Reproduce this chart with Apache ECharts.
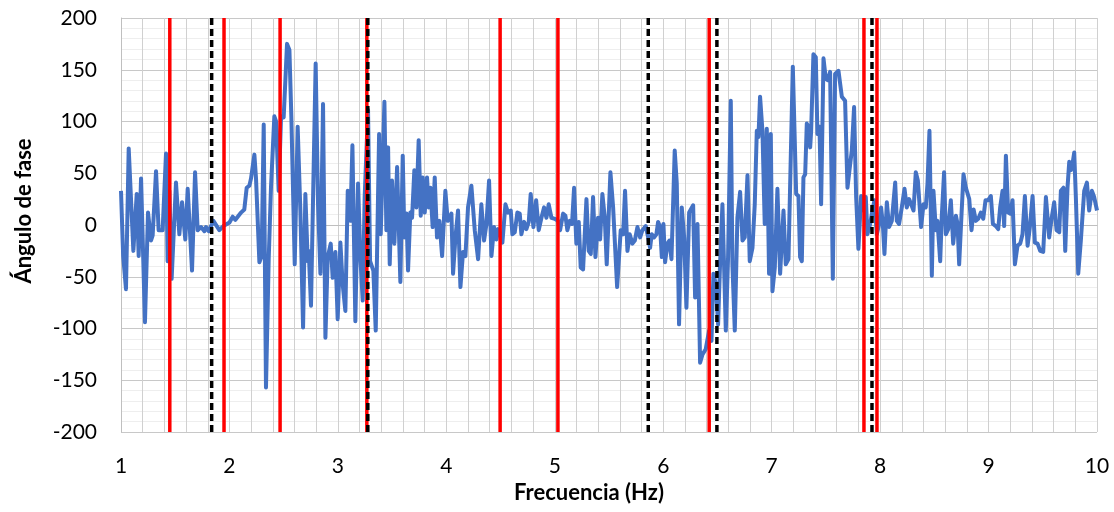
<!DOCTYPE html>
<html>
<head>
<meta charset="utf-8">
<script src="https://cdn.jsdelivr.net/npm/echarts@6/dist/echarts.min.js"></script>
<style>
  html, body { margin: 0; padding: 0; background: #fff; }
  #chart { width: 1114px; height: 512px; }
</style>
</head>
<body>
<div id="chart"></div>
<script>
// [Hz, grados], por tramos
const tramo1 = [
  [1.000, 33], [1.020, -30], [1.046, -62], [1.071, 74], [1.114, -25], [1.145, 30], [1.163, -30],
  [1.185, 45], [1.200, 45], [1.221, -94], [1.249, 12], [1.277, -15], [1.292, -10], [1.323, 52],
  [1.347, -5], [1.384, -5], [1.415, 69], [1.430, -35], [1.446, 33], [1.467, -52], [1.507, 41],
  [1.538, -9], [1.563, 22], [1.593, -14], [1.615, 35], [1.655, -44], [1.683, 51], [1.707, -5],
  [1.738, -2], [1.769, -6], [1.784, -2], [1.809, -6], [1.852, 4], [1.907, -5], [1.944, -1],
  [2.000, 2.5], [2.030, 8], [2.055, 5], [2.107, 12], [2.137, 15], [2.159, 36], [2.184, 38],
  [2.199, 45], [2.230, 68], [2.245, 45], [2.276, -36], [2.297, -30], [2.316, 97], [2.337, -157],
  [2.362, -33], [2.383, 36], [2.399, 36], [2.414, 105], [2.430, 100], [2.454, 33], [2.476, 105]
];
const tramo2 = [
  [2.500, 104], [2.531, 175], [2.553, 169], [2.571, 104], [2.586, 103], [2.602, -38], [2.629, 95],
  [2.654, 14], [2.679, -99], [2.700, 30], [2.722, -35], [2.731, -25], [2.752, -78], [2.795, 156],
  [2.817, 20], [2.839, -47], [2.863, 117], [2.885, -109], [2.906, -31], [2.934, -18], [2.952, -51],
  [2.977, -26], [2.998, -91], [3.023, -17], [3.044, -57], [3.069, -83], [3.091, 33], [3.115, 4],
  [3.134, 77], [3.161, -93], [3.186, 40], [3.207, -31], [3.229, -73], [3.247, 27], [3.278, 111],
  [3.297, -35], [3.327, -44], [3.349, -102], [3.380, 88], [3.395, -9], [3.429, 119], [3.447, -5],
  [3.463, 75], [3.478, -38], [3.499, 43], [3.521, -18], [3.546, 56], [3.576, -55], [3.598, 67],
  [3.613, -12], [3.632, 11], [3.647, -44], [3.668, 12], [3.684, 7], [3.705, 53], [3.724, 17],
  [3.745, 82], [3.764, 9], [3.782, 46], [3.801, 12], [3.822, 46], [3.838, 17], [3.853, 36],
  [3.874, -2], [3.893, 46], [3.914, -12], [3.936, 4], [3.961, -30], [3.991, 33], [4.013, 4]
];
const tramo3 = [
  [4.031, 7], [4.047, 11], [4.062, -47], [4.084, -12], [4.108, 14], [4.130, -60], [4.154, -26],
  [4.176, -30], [4.200, 17], [4.231, 38], [4.262, -5], [4.293, -33], [4.323, 20], [4.348, -15],
  [4.370, 1], [4.394, 43], [4.416, -30], [4.440, -2], [4.462, -14], [4.477, -4], [4.499, -10],
  [4.517, -17], [4.545, 20], [4.569, 12], [4.594, 14], [4.609, -9], [4.631, -7], [4.655, 12],
  [4.677, 11], [4.692, -9], [4.717, 3], [4.738, -4], [4.760, 3], [4.778, 30], [4.803, -2],
  [4.828, 24], [4.852, -5], [4.877, 7], [4.901, 17], [4.923, 7], [4.944, 20], [4.969, 7],
  [5.000, 6], [5.030, 4], [5.049, -5], [5.077, 11], [5.098, 9], [5.116, -5], [5.138, 4],
  [5.159, 1], [5.178, 36], [5.199, -18], [5.221, 3], [5.239, -41], [5.261, -43], [5.292, 25],
  [5.313, -25], [5.332, -28], [5.353, 27], [5.375, -31], [5.399, 7], [5.418, -14], [5.439, 30],
  [5.461, 7], [5.479, -38], [5.513, 51], [5.538, 17], [5.575, -60]
];
const tramo4 = [
  [5.608, -5], [5.630, -9], [5.648, 33], [5.670, -25], [5.691, -9], [5.716, -18], [5.738, -15],
  [5.762, -2], [5.787, -12], [5.808, -5], [5.839, -1], [5.861, -12], [5.879, -22], [5.894, -9],
  [5.916, -12], [5.937, -9], [5.953, 3], [5.971, -2], [5.987, -31], [6.002, 1], [6.017, -36],
  [6.039, -18], [6.057, -15], [6.076, -33], [6.106, 72], [6.125, 40], [6.146, -96], [6.171, 17],
  [6.193, -12], [6.214, -80], [6.239, 12], [6.276, 19], [6.294, -70], [6.316, 1], [6.340, -133],
  [6.362, -125], [6.392, -120], [6.423, -102], [6.445, -112], [6.463, -47], [6.485, -57],
  [6.506, -96], [6.524, -38], [6.546, 20], [6.577, -102], [6.598, -31], [6.623, 120], [6.638, -38],
  [6.660, -102], [6.684, 7], [6.709, 32], [6.731, -15], [6.752, -12], [6.777, 48], [6.798, -35],
  [6.823, -22], [6.844, 20], [6.863, 91], [6.878, 85], [6.893, 124], [6.915, 91], [6.936, 1],
  [6.955, 93], [6.976, -47], [6.992, 88], [7.007, -64], [7.029, -41], [7.053, 35], [7.078, -47]
];
const tramo5 = [
  [7.109, 14], [7.130, -38], [7.155, -33], [7.195, 153], [7.226, 30], [7.247, 28], [7.262, -31],
  [7.278, -35], [7.293, 46], [7.309, 49], [7.324, 98], [7.339, 95], [7.355, 75], [7.364, 91],
  [7.385, 165], [7.407, 162], [7.422, 88], [7.441, 95], [7.456, 20], [7.478, 161], [7.499, 141],
  [7.518, 140], [7.539, 148], [7.564, -52], [7.585, 146], [7.616, 149], [7.647, 124], [7.677, 120],
  [7.699, 36], [7.724, 59], [7.739, 72], [7.760, 114], [7.779, 27], [7.800, -23], [7.816, -23],
  [7.825, 28], [7.846, 14], [7.868, 27], [7.883, -9], [7.908, 1], [7.929, 14], [7.948, 24],
  [7.970, -9], [7.991, 1], [8.009, 17], [8.025, 1], [8.040, -28], [8.062, 22], [8.083, -2],
  [8.108, 4], [8.139, 41], [8.154, 4], [8.175, 1], [8.200, 17], [8.225, 35], [8.246, 17],
  [8.268, 25], [8.286, 24], [8.308, 14], [8.329, 51], [8.348, 43], [8.378, -2], [8.400, 20],
  [8.421, 17], [8.437, 40], [8.455, 91], [8.477, -49], [8.492, 33], [8.514, -5], [8.529, 4],
  [8.554, -35], [8.569, 9], [8.590, 51], [8.606, -9]
];
const tramo6 = [
  [8.628, -4], [8.652, 24], [8.674, -18], [8.699, 9], [8.714, 1], [8.729, -38], [8.751, 11],
  [8.769, 49], [8.791, 36], [8.822, 25], [8.843, -5], [8.862, 15], [8.883, 4], [8.905, 6],
  [8.929, 12], [8.951, 6], [8.972, 24], [8.997, 24], [9.021, 28], [9.040, 1], [9.067, -1],
  [9.089, -4], [9.107, 17], [9.129, 33], [9.144, -1], [9.160, 67], [9.181, 12], [9.200, 11],
  [9.221, 24], [9.243, -38], [9.267, -20], [9.292, -18], [9.313, -9], [9.335, 28], [9.360, -20],
  [9.381, -2], [9.406, 28], [9.427, -17], [9.452, -18], [9.476, -25], [9.504, -26], [9.529, 27],
  [9.559, -12], [9.581, 6], [9.605, 22], [9.627, -5], [9.652, -7], [9.667, 33], [9.691, 36],
  [9.707, -25], [9.728, 36], [9.744, 61], [9.759, 53], [9.774, 59], [9.790, 70], [9.805, 27],
  [9.827, -47], [9.851, -15], [9.882, 33], [9.907, 41], [9.928, 14], [9.953, 33], [9.974, 27],
  [10.000, 14]
];

// lineas verticales (Hz)
const lineasRojas = [1.45, 1.95, 2.467, 3.267, 4.496, 5.029, 6.424, 7.851, 7.971];
const lineasNegras = [1.836, 3.276, 5.862, 6.495, 7.925];

const fase = [].concat(tramo1, tramo2, tramo3, tramo4, tramo5, tramo6);

const chart = echarts.init(document.getElementById('chart'));
const fuente = 'Lato, "Open Sans", sans-serif';

function vertical(x, color, width, type) {
  return {
    type: 'line',
    data: [[x, -200], [x, 200]],
    showSymbol: false,
    silent: true,
    z: 3,
    lineStyle: { color: color, width: width, type: type },
  };
}

const series = [
  {
    name: 'fase',
    type: 'line',
    data: fase,
    showSymbol: false,
    z: 2,
    lineStyle: { color: '#4472C4', width: 4, join: 'round' },
  },
]
  .concat(lineasRojas.map((x) => vertical(x, '#ff0000', 3.5, 'solid')))
  .concat(lineasNegras.map((x) => vertical(x, '#000000', 3.5, [7, 4])));

chart.setOption({
  animation: false,
  grid: { left: 121, right: 17, top: 18, bottom: 80 },
  xAxis: {
    type: 'value',
    min: 1,
    max: 10,
    interval: 1,
    name: 'Frecuencia (Hz)',
    nameLocation: 'middle',
    nameGap: 50,
    nameTextStyle: { fontFamily: fuente, fontWeight: 'bold', fontSize: 22, color: '#000', padding: [0, 40, 0, 0] },
    axisLine: { lineStyle: { color: '#bfbfbf', width: 1 } },
    axisTick: { show: false },
    axisLabel: { fontFamily: fuente, fontSize: 21, color: '#000', margin: 24 },
    splitLine: { show: true, lineStyle: { color: '#d0d0d0', width: 1 } },
    minorTick: { show: false, splitNumber: 5 },
    minorSplitLine: { show: true, lineStyle: { color: '#d0d0d0', width: 1 } },
  },
  yAxis: {
    type: 'value',
    min: -200,
    max: 200,
    interval: 50,
    name: 'Ángulo de fase',
    nameLocation: 'middle',
    nameGap: 86,
    nameTextStyle: { fontFamily: fuente, fontWeight: 'bold', fontSize: 22, color: '#000', padding: [0, 0, 0, 28] },
    axisLine: { show: true, lineStyle: { color: '#bfbfbf', width: 1 } },
    axisTick: { show: false },
    axisLabel: { fontFamily: fuente, fontSize: 21, color: '#000', margin: 24 },
    splitLine: { show: true, lineStyle: { color: '#c8c8c8', width: 1 } },
    minorTick: { show: false, splitNumber: 5 },
    minorSplitLine: { show: true, lineStyle: { color: '#eeeeee', width: 1 } },
  },
  series: series,
});
</script>
</body>
</html>
